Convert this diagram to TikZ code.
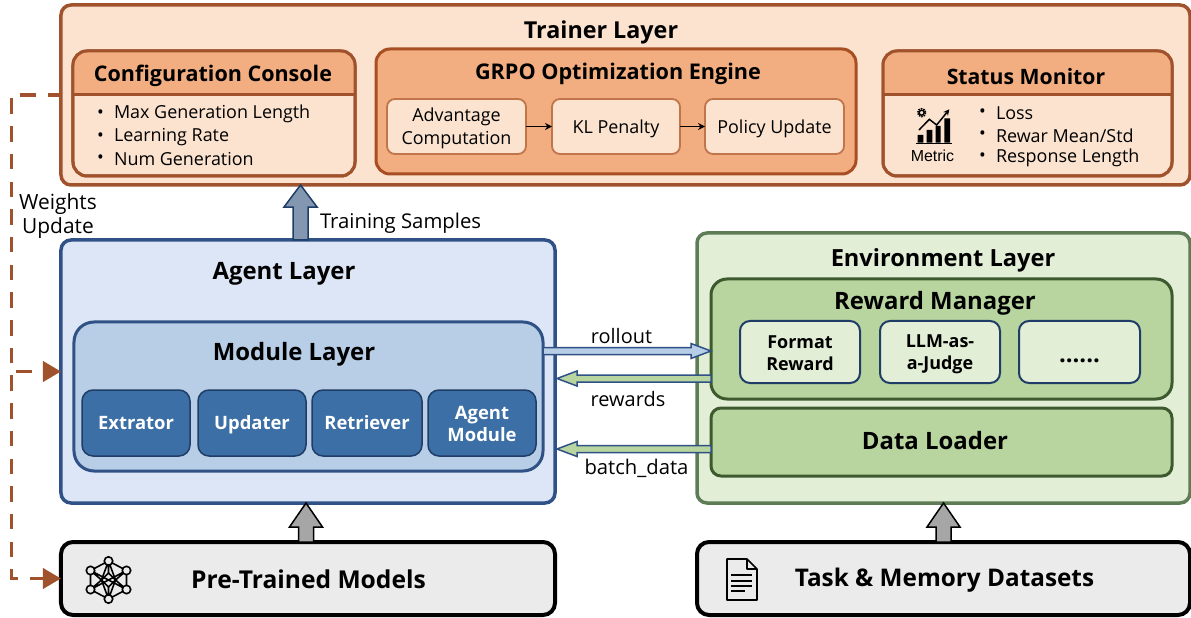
\documentclass[tikz,border=0pt]{standalone}
\usepackage{fontspec}
\setmainfont{Open Sans}
\newfontfamily\arialf{Liberation Sans}
\usetikzlibrary{calc,arrows.meta}
\definecolor{trStroke}{HTML}{A0522D}
\definecolor{trFill}{HTML}{FBE3D0}
\definecolor{trHead}{HTML}{F2AE80}
\definecolor{trInner}{HTML}{C0754A}
\definecolor{grpoStroke}{HTML}{A84E22}
\definecolor{agStroke}{HTML}{2F5185}
\definecolor{agFill}{HTML}{DCE6F6}
\definecolor{modFill}{HTML}{B7CEE6}
\definecolor{subFill}{HTML}{3C6FA5}
\definecolor{navy}{HTML}{1F3D66}
\definecolor{enFill}{HTML}{E2EED6}
\definecolor{enStroke}{HTML}{5E7C55}
\definecolor{rwFill}{HTML}{B8D5A0}
\definecolor{rwStroke}{HTML}{3C5A2E}
\definecolor{greyFill}{HTML}{EBEBEB}
\definecolor{upFill}{HTML}{8497B0}
\definecolor{gyFill}{HTML}{A6A6A6}
\newcommand{\fsz}[2]{\fontsize{#1}{#2}\selectfont}
\newcommand{\boxnode}[6][]{%
  \pgfmathsetmacro\bxw{#5-#3}\pgfmathsetmacro\bxh{#6-#4}%
  \pgfmathsetmacro\bxx{(#3+#5)/2}\pgfmathsetmacro\bxy{(#4+#6)/2}%
  \node[#1,minimum width=\bxw bp,minimum height=\bxh bp] (#2) at (\bxx,\bxy) {};}
\tikzset{
 x=1bp,y=-1bp,
 every node/.style={inner sep=0pt,outer sep=0pt,align=center},
 base/.style={draw,rectangle},
 trainerbox/.style={base,draw=trStroke,fill=trFill,line width=3.5bp,rounded corners=10bp},
 cardbox/.style={base,draw=trStroke,fill=trFill,line width=3bp,rounded corners=14bp},
 cardline/.style={base,draw=trStroke,line width=3bp,rounded corners=14bp},
 grpobox/.style={base,draw=grpoStroke,fill=trHead,line width=3bp,rounded corners=14bp},
 stepbox/.style={base,draw=trInner,fill=trFill,line width=1.8bp,rounded corners=8bp},
 agentbox/.style={base,draw=agStroke,fill=agFill,line width=3.5bp,rounded corners=10bp},
 modulebox/.style={base,draw=agStroke,fill=modFill,line width=3bp,rounded corners=20bp},
 subbox/.style={base,draw=navy,fill=subFill,line width=1.5bp,rounded corners=11bp},
 envbox/.style={base,draw=enStroke,fill=enFill,line width=3.5bp,rounded corners=10bp},
 rewardbox/.style={base,draw=rwStroke,fill=rwFill,line width=3bp,rounded corners=16bp},
 loaderbox/.style={base,draw=rwStroke,fill=rwFill,line width=3bp,rounded corners=10bp},
 rwitem/.style={base,draw=navy,fill=enFill,line width=2bp,rounded corners=10bp},
 greybox/.style={base,draw=black,fill=greyFill,line width=4bp,rounded corners=12bp},
 ttl/.style={font=\bfseries\fsz{24}{28}},
 smallarrow/.style={draw=black,line width=1.5bp,-{Stealth[length=7bp,width=7bp]}},
 weights/.style={draw=trStroke,line width=3.8bp},
 wtip/.style={-{Triangle[length=18bp,width=20bp,fill=trStroke]}},
 blockarrow/.style n args={5}{draw=#1,fill=#2,line width=1.5bp,line join=miter,
   to path={($(\tikztostart)!#3bp!90:(\tikztotarget)$)
     -- ($(\tikztotarget)!#5bp!(\tikztostart)!#3bp!90:(\tikztotarget)$)
     -- ($(\tikztotarget)!#5bp!(\tikztostart)!#4bp!90:(\tikztotarget)$)
     -- (\tikztotarget)
     -- ($(\tikztotarget)!#5bp!(\tikztostart)!-#4bp!90:(\tikztotarget)$)
     -- ($(\tikztotarget)!#5bp!(\tikztostart)!-#3bp!90:(\tikztotarget)$)
     -- ($(\tikztostart)!-#3bp!90:(\tikztotarget)$) -- cycle}},
 iconline/.style={draw=black,line width=1.6bp},
}
\begin{document}
\begin{tikzpicture}
\useasboundingbox (0,0) rectangle (1191,618);
% Trainer
\boxnode[trainerbox]{trainer}{61}{5}{1190}{185}
\node[font=\bfseries\fsz{23.4}{28}] (trainerT) at (601,32) {Trainer Layer};
% Config card
\boxnode[cardbox]{cfg}{73}{51}{355}{176}
\fill[trHead] (73,94.5) [rounded corners=14bp] -- (73,51) -- (355,51) [sharp corners] -- (355,94.5) -- cycle;
\boxnode[cardline]{cfgO}{73}{51}{355}{176}
\draw[draw=trStroke,line width=3bp] (cfgO.west |- 0,94.5) -- (cfgO.east |- 0,94.5);
\node[font=\bfseries\fsz{21.6}{26}] (cfgT) at (213,76) {Configuration Console};
\tikzset{itm/.style={anchor=west,font=\fsz{18}{20}}}
\node[itm] (c1d) at (97,114) {•};
\node[itm] (c1) at (114,114) {Max Generation Length};
\node[itm] (c2d) at (97,137) {•};
\node[itm] (c2) at (114,137) {Learning Rate};
\node[itm] (c3d) at (97,159) {•};
\node[itm] (c3) at (114,159) {Num Generation};
% GRPO
\boxnode[grpobox]{grpo}{376}{49}{856}{174}
\node[font=\bfseries\fsz{21.7}{25}] (grpoT) at (618,74) {GRPO Optimization Engine};
\boxnode[stepbox]{adv}{387}{99}{526}{154}
\node[font=\fsz{18}{23}] (advT) at (456.5,128) {Advantage\\Computation};
\boxnode[stepbox]{kl}{552}{99}{680}{154}
\node[font=\fsz{18}{23}] (klT) at (616,129) {KL Penalty};
\boxnode[stepbox]{pol}{705}{99}{844}{154}
\node[font=\fsz{18}{23}] (polT) at (774.5,129) {Policy Update};
\draw[smallarrow] (adv) -- (kl);
\draw[smallarrow] (kl) -- (pol);
% Status
\boxnode[cardbox]{stat}{883}{51}{1172}{176}
\fill[trHead] (883,94.5) [rounded corners=14bp] -- (883,51) -- (1172,51) [sharp corners] -- (1172,94.5) -- cycle;
\boxnode[cardline]{statO}{883}{51}{1172}{176}
\draw[draw=trStroke,line width=3bp] (statO.west |- 0,94.5) -- (statO.east |- 0,94.5);
\node[font=\bfseries\fsz{21.3}{25}] (statT) at (1026,76.5) {Status Monitor};
\node[itm] (s1d) at (979,113) {•};
\node[itm] (s1) at (996,113) {Loss};
\node[itm] (s2d) at (979,135) {•};
\node[itm] (s2) at (996,135.5) {Rewar Mean/Std};
\node[itm] (s3d) at (979,157) {•};
\node[itm] (s3) at (996,157.5) {Response Length};
% Metric icon
\begin{scope}[shift={(890,90)},x=0.3333bp,y=-0.3333bp]
 \fill[black] (83,135) rectangle (100,158) (110,120) rectangle (127,158) (137,108) rectangle (152,158) (163,85) rectangle (180,158);
 \draw[black,line width=1.6bp] (78,160) -- (185,160);
 \draw[black,line width=1.5bp,-{Stealth[length=6bp,width=6bp]}] (87,120) -- (118,88) -- (140,105) -- (178,58);
 \draw[black,line width=1.5bp,densely dotted] (95,68) circle (12);
 \draw[black,line width=1.4bp] (95,68) circle (7.5);
\end{scope}
\node[font=\arialf\fsz{16}{18}] (metricT) at (932.5,156) {Metric};
% Agent
\boxnode[agentbox]{agent}{61}{240}{555}{503}
\node[ttl] (agentT) at (284,274) {Agent Layer};
\boxnode[modulebox]{module}{74}{322}{543}{471}
\node[ttl] (moduleT) at (294,354) {Module Layer};
\tikzset{subt/.style={text=white,font=\bfseries\fsz{18.5}{22}}}
\boxnode[subbox]{ext}{82}{390}{190}{456}
\node[subt] (extT) at (136,423) {Extrator};
\boxnode[subbox]{upd}{198}{390}{306}{456}
\node[subt] (updT) at (252,425) {Updater};
\boxnode[subbox]{ret}{312}{390}{422}{456}
\node[subt] (retT) at (367,423) {Retriever};
\boxnode[subbox]{agm}{428}{390}{536}{456}
\node[subt] (agmT) at (482,424) {Agent\\Module};
% Environment
\boxnode[envbox]{env}{697}{233}{1190}{503}
\node[font=\bfseries\fsz{23.7}{28}] (envT) at (943,260) {Environment Layer};
\boxnode[rewardbox]{reward}{711}{279}{1172}{399}
\node[ttl] (rewardT) at (935,303) {Reward Manager};
\tikzset{rwt/.style={font=\bfseries\fsz{18}{22}}}
\boxnode[rwitem]{fmt}{740}{321}{860}{383}
\node[rwt] (fmtT) at (800,353) {Format\\Reward};
\boxnode[rwitem]{llm}{880}{321}{1000}{383}
\node[rwt] (llmT) at (940,354.5) {LLM-as-\\a-Judge};
\boxnode[rwitem]{more}{1019}{321}{1140}{383}
\node[rwt,font=\bfseries\fsz{24}{26}] (moreT) at (1079.5,361) {......};
\boxnode[loaderbox]{loader}{711}{408}{1172}{476}
\node[ttl] (loaderT) at (935,441) {Data Loader};
% Bottom
\boxnode[greybox]{pre}{61}{542}{555}{615}
\node[font=\bfseries\fsz{24.7}{28}] (preT) at (308.5,579) {Pre-Trained Models};
\boxnode[greybox]{task}{697}{542}{1190}{615}
\node[font=\bfseries\fsz{24.4}{28}] (taskT) at (944.5,580) {Task \& Memory Datasets};
% Net icon
\begin{scope}[shift={(108.5,580)}]
 \foreach \n/\a/\b in {T/0/-19,B/0/19,UL/-18/-9.5,UR/18/-9.5,LL/-18/9.5,LR/18/9.5}{\coordinate (n\n) at (\a,\b);}
 \foreach \n/\a/\b in {a/0/-7,b/0/7,c/-7/0,d/7/0}{\coordinate (m\n) at (\a,\b);}
 \draw[iconline] (nT)--(nUR)--(nLR)--(nB)--(nLL)--(nUL)--cycle;
 \draw[iconline] (nT)--(ma) (mb)--(nB) (nUL)--(nLR) (nUR)--(nLL) (nUL)--(mc) (nLL)--(mc) (nUR)--(md) (nLR)--(md) (nT)--(mc) (nT)--(md) (nB)--(mc) (nB)--(md);
 \draw[iconline] (ma)--(md)--(mb)--(mc)--cycle;
 \foreach \n in {T,B,UL,UR,LL,LR}{\draw[iconline,fill=greyFill] (n\n) circle (4.2);}
\end{scope}
% Doc icon
\draw[line width=1.6bp,line join=round] (727,559) -- (747,559) -- (757,569) -- (757,600) -- (727,600) -- cycle (747,559) -- (747,569) -- (757,569);
\draw[line width=1.6bp] (731,575) -- (752,575) (731,580.7) -- (752,580.7) (731,586) -- (752,586) (731,591) -- (745,591);
% Block arrows
\coordinate (tsS) at ($(agent.north)+(-7.5,0)$);
\draw[blockarrow={navy}{upFill}{7.5}{16.5}{22}] (tsS) to (tsS |- trainer.south);
\node[anchor=west,font=\fsz{20.4}{22}] (tsT) at (320,223) {Training Samples};
\coordinate (prS) at ($(pre.north)+(-2,0)$);
\draw[blockarrow={black}{gyFill}{7.5}{16.5}{24}] (prS) to (prS |- agent.south);
\draw[blockarrow={black}{gyFill}{7.5}{16.5}{24}] (task.north) to (task.north |- env.south);
% Exchange arrows
\coordinate (roS) at ($(module.east)+(0,-45.5)$);
\draw[blockarrow={agStroke}{modFill}{3.5}{7.5}{20}] (roS) to (roS -| reward.west);
\coordinate (reS) at ($(reward.west)+(0,39.5)$);
\draw[blockarrow={agStroke}{rwFill}{3.5}{7.5}{20}] (reS) to ($(reS -| agent.east)+(2,0)$);
\coordinate (baS) at ($(loader.west)+(0,7)$);
\draw[blockarrow={agStroke}{rwFill}{3.5}{7.5}{20}] (baS) to ($(baS -| agent.east)+(2,0)$);
\node[font=\fsz{20}{22}] (roT) at (621.5,336) {rollout};
\node[font=\fsz{20}{22}] (reT) at (628,399) {rewards};
\node[font=\fsz{20.3}{22}] (baT) at (636.5,468) {batch\_data};
% Weights
\coordinate (wTop) at (trainer.west -| 11.5,0);
\coordinate (wBot) at (pre.west -| 11.5,0);
\draw[weights,wtip,dash pattern=on 15.5bp off 12.2bp,dash phase=2.5bp] (trainer.west) -- (wTop) -- (wBot) -- (pre.west);
\coordinate (wMid) at (agent.west -| 11.5,0);
\draw[weights,wtip,dash pattern=on 15.5bp off 12.2bp,dash phase=23.2bp] (wMid) -- (agent.west);
\node[font=\fsz{21}{24.5}] (wT) at (58,216) {Weights\\Update};
\end{tikzpicture}
\end{document}
